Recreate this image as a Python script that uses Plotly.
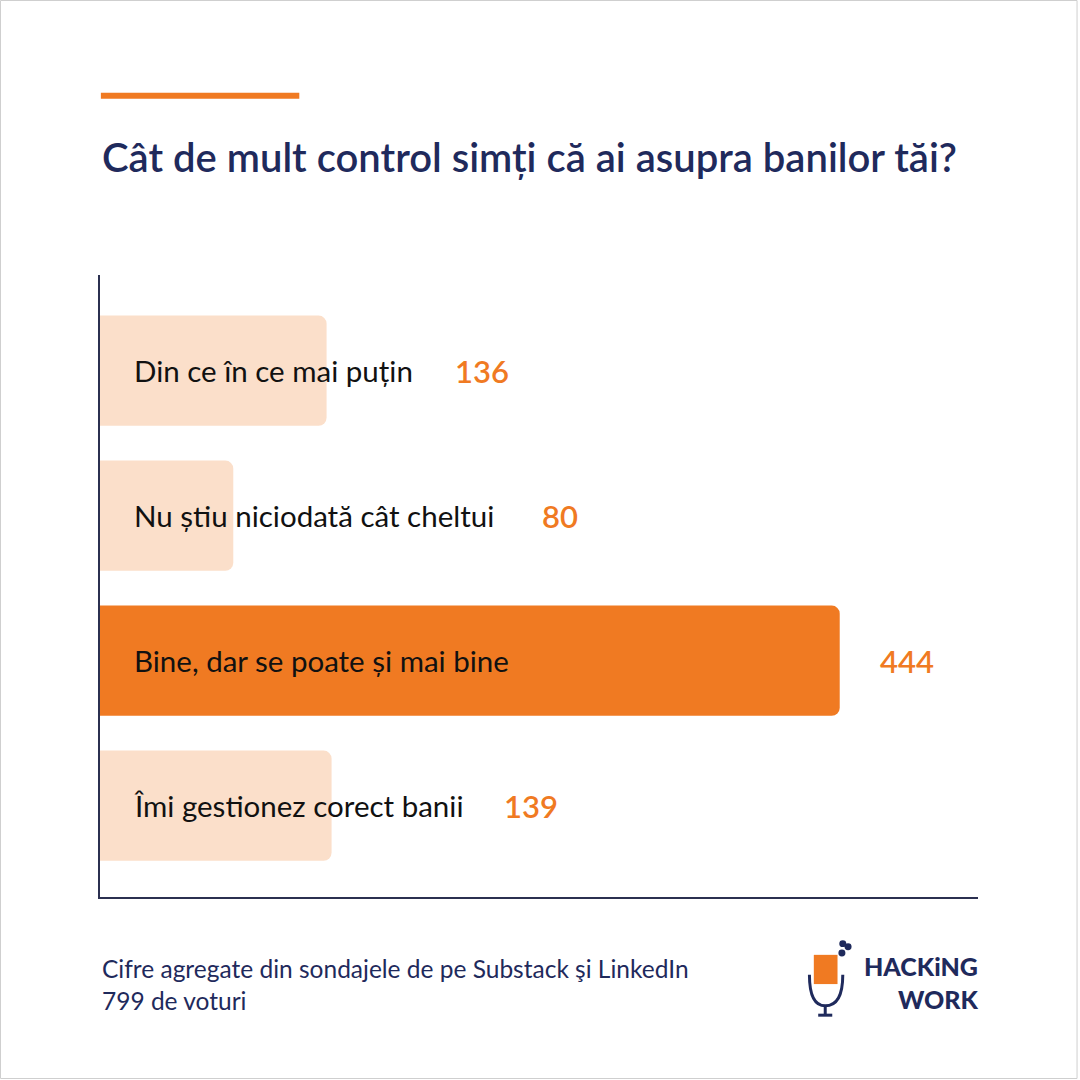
import plotly.graph_objects as go

# poll answers, top to bottom
answers = [
    "Din ce în ce mai puțin",
    "Nu știu niciodată cât cheltui",
    "Bine, dar se poate și mai bine",
    "Îmi gestionez corect banii",
]
votes = [136, 80, 444, 139]
highlight = "Bine, dar se poate și mai bine"

title = "Cât de mult control simți că ai asupra banilor tăi?"
footer = "Cifre agregate din sondajele de pe Substack şi LinkedIn<br>799 de voturi"

NAVY = "#1f2a5c"
AXIS = "#2b3050"
ORANGE = "#f07a22"
PEACH = "#fbdfca"
FONT = "Lato"

X_MAX = 527
PLOT_W = 878  # px width of plot area
px_per_unit = PLOT_W / X_MAX

colors = [ORANGE if a == highlight else PEACH for a in answers]

fig = go.Figure(go.Bar(
    x=votes, y=answers, orientation="h",
    marker=dict(color=colors, line=dict(width=0)),
    hoverinfo="skip",
))

# answer text inside the bars, count after whichever ends last (text or bar)
for a, v in zip(answers, votes):
    fig.add_annotation(x=0, y=a, xref="x", yref="y", text=a, showarrow=False,
                       xanchor="left", xshift=32,
                       font=dict(family=FONT, size=29.5, color="#111111"))
    text_end = 32 + len(a) * 12.4  # rough text width in px
    if text_end + 48 > v * px_per_unit + 38:
        vx, shift = 0, text_end + 48
    else:
        vx, shift = v, 38
    fig.add_annotation(x=vx, y=a, xref="x", yref="y", text=str(v), showarrow=False,
                       xanchor="left", xshift=shift,
                       font=dict(family=FONT, size=31, color=ORANGE, weight=600))

# title, accent line, footer
fig.add_shape(type="line", xref="paper", yref="paper", x0=0.001, x1=0.227,
              y0=1.288, y1=1.288, line=dict(color=ORANGE, width=6))
fig.add_annotation(xref="paper", yref="paper", x=0, y=1.19, text=title,
                   showarrow=False, xanchor="left", yanchor="middle",
                   font=dict(family=FONT, size=40, color=NAVY, weight=600))
fig.add_annotation(xref="paper", yref="paper", x=0, y=-0.14, text=footer,
                   showarrow=False, xanchor="left", yanchor="middle", align="left",
                   font=dict(family=FONT, size=24.5, color=NAVY))

# logo, roughly
fig.add_annotation(xref="paper", yref="paper", x=1.003, y=-0.138, text="HACKiNG<br>WORK",
                   showarrow=False, xanchor="right", yanchor="middle", align="right",
                   font=dict(family=FONT, size=25, color=NAVY, weight=900))
fig.add_shape(type="rect", xref="paper", yref="paper", x0=0.813, x1=0.84,
              y0=-0.14, y1=-0.093, fillcolor=ORANGE, line=dict(width=0))
fig.add_shape(type="path", xref="paper", yref="paper",
              path="M 0.808,-0.125 Q 0.808,-0.175 0.826,-0.175 Q 0.846,-0.175 0.846,-0.125",
              line=dict(color=NAVY, width=3))
fig.add_shape(type="line", xref="paper", yref="paper", x0=0.826, x1=0.826,
              y0=-0.175, y1=-0.19, line=dict(color=NAVY, width=3))
fig.add_shape(type="line", xref="paper", yref="paper", x0=0.818, x1=0.834,
              y0=-0.19, y1=-0.19, line=dict(color=NAVY, width=3))
for cx, cy in [(0.845, -0.09), (0.852, -0.08), (0.846, -0.075)]:
    fig.add_shape(type="circle", xref="paper", yref="paper",
                  x0=cx - 0.004, x1=cx + 0.004, y0=cy - 0.0055, y1=cy + 0.0055,
                  fillcolor=NAVY, line=dict(width=0))

# thin grey frame around the card
fig.add_shape(type="rect", xref="paper", yref="paper", x0=-0.1133, x1=1.1128,
              y0=-0.2918, y1=1.4413, line=dict(color="#cfcfcf", width=1))

fig.update_layout(
    width=1080, height=1080,
    margin=dict(l=100, r=102, t=275, b=183),
    paper_bgcolor="white", plot_bgcolor="white",
    bargap=0.24, barcornerradius=8,
    showlegend=False,
    xaxis=dict(range=[0, X_MAX], showgrid=False, zeroline=False, showticklabels=False,
               ticks="", showline=True, linecolor=AXIS, linewidth=2, fixedrange=True),
    yaxis=dict(range=[3.63, -0.66], categoryorder="array", categoryarray=answers,
               showgrid=False, zeroline=False, showticklabels=False, ticks="",
               showline=True, linecolor=AXIS, linewidth=2, fixedrange=True),
)

fig.write_html("out.html", config={"displayModeBar": False},
               post_script="document.body.style.margin='0';")
